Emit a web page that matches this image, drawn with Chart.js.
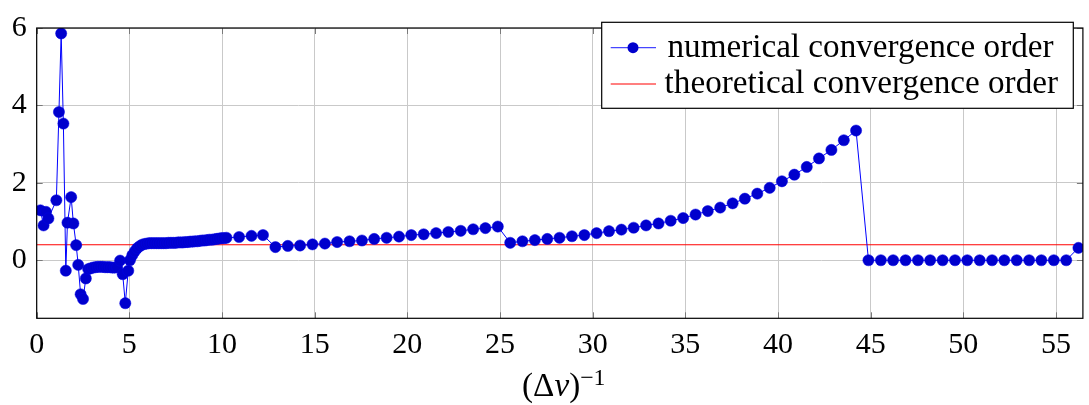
<!DOCTYPE html>
<html><head><meta charset="utf-8">
<script src="https://cdn.jsdelivr.net/npm/chart.js@4"></script>
<style>html,body{margin:0;padding:0;background:#fff}#wrap{width:1089px;height:405px;position:relative}</style>
</head><body><div id="wrap"><canvas id="c" width="1089" height="405"></canvas></div>
<script>
// ---- data ----
const xNum = [
  0.20, 0.37, 0.50, 0.63, 1.06, 1.20, 1.32, 1.44, 1.57, 1.66, 1.86, 1.98, 2.13, 2.24, 2.37, 2.50, 2.65, 2.78,
  2.91, 3.04, 3.17, 3.30, 3.43, 3.56, 3.69, 3.82, 3.95, 4.08, 4.21, 4.34,
  4.50, 4.64, 4.78, 4.94, 5.03,
  5.16, 5.29, 5.42, 5.55, 5.68, 5.81, 5.94, 6.07, 6.20, 6.33, 6.46, 6.59, 6.72, 6.85, 6.98,
  7.11, 7.24, 7.37, 7.50, 7.63, 7.76, 7.89, 8.02, 8.15, 8.28, 8.41, 8.54, 8.67, 8.80, 8.93,
  9.06, 9.19, 9.32, 9.45, 9.58, 9.71, 9.84, 9.97, 10.10, 10.24,
  10.92, 11.59, 12.21,
  12.88, 13.55, 14.21, 14.88, 15.55, 16.21, 16.88, 17.55, 18.21, 18.88, 19.55, 20.21, 20.88, 21.55, 22.21, 22.88, 23.55, 24.21, 24.88,
  25.55, 26.21, 26.88, 27.55, 28.21, 28.88, 29.55, 30.21, 30.88, 31.55, 32.21, 32.88, 33.55, 34.21, 34.88,
  35.55, 36.21, 36.88, 37.55, 38.21, 38.88, 39.55, 40.21, 40.88, 41.55, 42.21, 42.88, 43.55, 44.21,
  44.88, 45.55, 46.21, 46.88, 47.55, 48.21, 48.88, 49.55, 50.21, 50.88, 51.55, 52.21, 52.88, 53.55, 54.21, 54.88, 55.55,
  56.21
];
const yNum = [
  1.29, 0.90, 1.25, 1.08, 1.55, 3.83, 5.86, 3.53, -0.27, 0.97, 1.63, 0.95, 0.39, -0.12, -0.88, -1.00, -0.47, -0.23,
  -0.21, -0.19, -0.18, -0.17, -0.17, -0.17, -0.18, -0.18, -0.18, -0.19, -0.19, -0.18,
  -0.01, -0.36, -1.11, -0.27, 0.00,
  0.13, 0.23, 0.31, 0.36, 0.40, 0.42, 0.43, 0.44, 0.44, 0.44, 0.44, 0.44, 0.44, 0.44, 0.44,
  0.45, 0.45, 0.45, 0.45, 0.46, 0.46, 0.46, 0.47, 0.47, 0.48, 0.48, 0.49, 0.49, 0.50, 0.51,
  0.51, 0.52, 0.53, 0.53, 0.54, 0.55, 0.56, 0.57, 0.57, 0.58,
  0.60, 0.63, 0.65,
  0.34, 0.37, 0.38, 0.41, 0.43, 0.47, 0.49, 0.51, 0.55, 0.58, 0.61, 0.65, 0.67, 0.70, 0.73, 0.76, 0.80, 0.83, 0.87,
  0.45, 0.49, 0.52, 0.55, 0.58, 0.62, 0.65, 0.70, 0.75, 0.79, 0.84, 0.90, 0.95, 1.02, 1.09,
  1.18, 1.27, 1.36, 1.47, 1.59, 1.72, 1.87, 2.04, 2.21, 2.41, 2.63, 2.85, 3.10, 3.35,
  0, 0, 0, 0, 0, 0, 0, 0, 0, 0, 0, 0, 0, 0, 0, 0, 0,
  0.32
];
const theoreticalOrder = 0.4;
const xRange = [0, 56.45];
const yRange = [-1.5, 6];
const xTicks = [0, 5, 10, 15, 20, 25, 30, 35, 40, 45, 50, 55];
const yTicks = [0, 2, 4, 6];
const legendLabels = ['numerical convergence order', 'theoretical convergence order'];

const SERIF = '"Liberation Serif", "DejaVu Serif", serif';
const numPoints = xNum.map((x, i) => ({x: x, y: yNum[i]}));
const theoPoints = xRange.map(x => ({x: x, y: theoreticalOrder}));

const decor = {
  id: 'decor',
  afterDraw(chart) {
    const ctx = chart.ctx, a = chart.chartArea;
    const xs = chart.scales.x, ys = chart.scales.y;
    ctx.save();
    // tick marks (inside, all four sides)
    ctx.strokeStyle = '#7a7a7a'; ctx.lineWidth = 1;
    const tl = 6;
    ctx.beginPath();
    xTicks.forEach(v => { const p = Math.round(xs.getPixelForValue(v)) + 0.5;
      ctx.moveTo(p, a.bottom); ctx.lineTo(p, a.bottom - tl);
      ctx.moveTo(p, a.top); ctx.lineTo(p, a.top + tl); });
    yTicks.forEach(v => { const p = Math.round(ys.getPixelForValue(v)) + 0.5;
      ctx.moveTo(a.left, p); ctx.lineTo(a.left + tl, p);
      ctx.moveTo(a.right, p); ctx.lineTo(a.right - tl, p); });
    ctx.stroke();
    // box
    ctx.strokeStyle = '#000'; ctx.lineWidth = 1.2;
    ctx.strokeRect(a.left, a.top, a.right - a.left, a.bottom - a.top);

    // legend
    const L = {x0: 601.7, y0: 22.3, x1: 1073.3, y1: 108.3};
    ctx.fillStyle = '#fff';
    ctx.fillRect(L.x0, L.y0, L.x1 - L.x0, L.y1 - L.y0);
    ctx.strokeStyle = '#000'; ctx.lineWidth = 1.2;
    ctx.strokeRect(L.x0, L.y0, L.x1 - L.x0, L.y1 - L.y0);
    ctx.font = '30px ' + SERIF;
    const fs = 30 * 386 / ctx.measureText(legendLabels[0]).width;
    ctx.font = fs.toFixed(2) + 'px ' + SERIF;
    ctx.fillStyle = '#000'; ctx.textAlign = 'center'; ctx.textBaseline = 'alphabetic';
    const rows = [{y: 47.7, base: 57, cx: 860.5}, {y: 84, base: 93, cx: 861.3}];
    // row 1
    ctx.strokeStyle = 'rgb(70,70,255)'; ctx.lineWidth = 1.2;
    ctx.beginPath(); ctx.moveTo(610.7, rows[0].y); ctx.lineTo(656, rows[0].y); ctx.stroke();
    ctx.fillStyle = 'rgb(0,0,205)';
    ctx.beginPath(); ctx.arc(633, rows[0].y, 5.5, 0, Math.PI * 2); ctx.fill();
    ctx.fillStyle = '#000';
    ctx.fillText(legendLabels[0], rows[0].cx, rows[0].base);
    // row 2
    ctx.strokeStyle = 'rgb(255,0,0)'; ctx.lineWidth = 1.2;
    ctx.beginPath(); ctx.moveTo(610.7, rows[1].y); ctx.lineTo(656, rows[1].y); ctx.stroke();
    ctx.fillText(legendLabels[1], rows[1].cx, rows[1].base);

    // x-axis title: (Δv)^{-1}
    const big = fs.toFixed(2) + 'px ' + SERIF;
    const bigI = 'italic ' + fs.toFixed(2) + 'px ' + SERIF;
    const small = (fs * 0.72).toFixed(2) + 'px ' + SERIF;
    const parts = [['(', big, 0], ['\u0394', big, 0], ['v', bigI, 0], [')', big, 0], ['\u22121', small, -11]];
    let total = 0;
    parts.forEach(p => { ctx.font = p[1]; p.push(ctx.measureText(p[0]).width); total += p[3]; });
    let x = (a.left + a.right) / 2 + 4 - total / 2;
    ctx.textAlign = 'left';
    parts.forEach(p => { ctx.font = p[1]; ctx.fillText(p[0], x, 396 + p[2]); x += p[3]; });
    ctx.restore();
  }
};

new Chart(document.getElementById('c'), {
  type: 'scatter',
  data: {
    datasets: [
      {label: legendLabels[0], data: numPoints, showLine: true,
       borderColor: 'rgb(0,0,255)', borderWidth: 1,
       pointBackgroundColor: 'rgb(0,0,205)', pointBorderColor: 'rgb(0,0,230)', pointBorderWidth: 0.5,
       pointRadius: 5.6, pointHoverRadius: 5.6, tension: 0},
      {label: legendLabels[1], data: theoPoints, showLine: true,
       borderColor: 'rgb(255,0,0)', borderWidth: 1.2, pointRadius: 0, pointHoverRadius: 0}
    ]
  },
  options: {
    responsive: false, animation: false, devicePixelRatio: 1,
    layout: {padding: {left: 0, right: 4, top: 16, bottom: 0}},
    plugins: {legend: {display: false}, tooltip: {enabled: false}},
    scales: {
      x: {type: 'linear', min: xRange[0], max: xRange[1],
          afterBuildTicks: s => { s.ticks = xTicks.map(v => ({value: v})); },
          afterFit: s => { s.height = 86.7; },
          grid: {color: '#c9c9c9', lineWidth: 1, drawTicks: false},
          border: {display: false},
          ticks: {font: {family: SERIF, size: 30}, color: '#000', padding: 9, maxRotation: 0, autoSkip: false}},
      y: {type: 'linear', min: yRange[0], max: yRange[1],
          afterBuildTicks: s => { s.ticks = yTicks.map(v => ({value: v})); },
          afterFit: s => { s.width = 36.7; },
          grid: {color: '#c9c9c9', lineWidth: 1, drawTicks: false},
          border: {display: false},
          ticks: {font: {family: SERIF, size: 30}, color: '#000', padding: 10, autoSkip: false}}
    }
  },
  plugins: [decor]
});
</script>
</body></html>
